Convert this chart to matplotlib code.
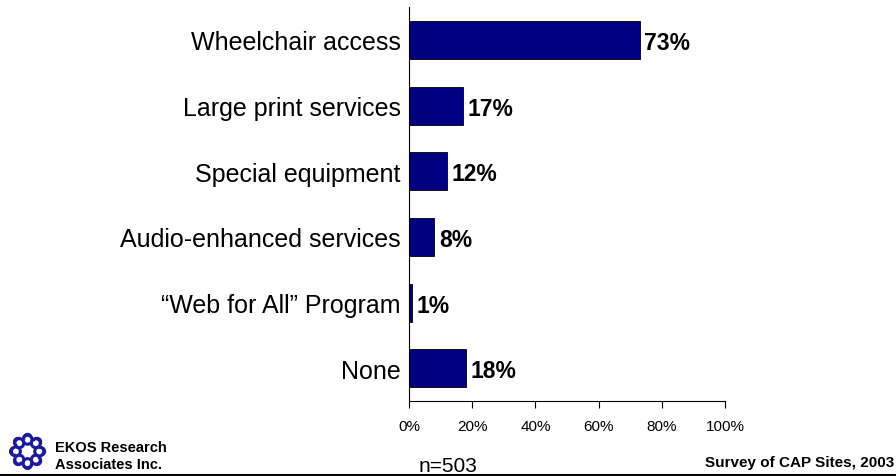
import numpy as np
import matplotlib.pyplot as plt
from matplotlib.patches import Arc, Circle
from matplotlib.lines import Line2D

plt.rcParams['font.family'] = ['Liberation Sans', 'DejaVu Sans']

# Accessibility features offered at sites (percent of respondents)
features = ["Wheelchair access", "Large print services", "Special equipment",
            "Audio-enhanced services", "\u201cWeb for All\u201d Program", "None"]
shares = [73, 17, 12, 8, 1, 18]
ticks = [0, 20, 40, 60, 80, 100]

fig = plt.figure(figsize=(8.96, 4.77), dpi=100)
ax = fig.add_axes([0.4565, 0.157, 0.3527, 0.826])

y = np.arange(len(features))
ax.barh(y, shares, height=0.58, color="#000080", edgecolor="black", linewidth=0.6)
for yi, v in zip(y, shares):
    ax.text(v + 1.5, yi, f"{v}%", va="center_baseline", ha="left",
            fontsize=16.5, fontweight="bold")

ax.set_ylim(len(features) - 0.5, -0.5)
ax.set_xlim(0, 100)
ax.set_yticks(y)
ax.set_yticklabels(features, fontsize=18)
ax.set_xticks(ticks)
ax.set_xticklabels([f"{t}%" for t in ticks], fontsize=11)
ax.tick_params(axis="y", length=0, pad=6)
ax.tick_params(axis="x", length=5, width=0.8, pad=8)
for side in ("top", "right"):
    ax.spines[side].set_visible(False)
for side in ("left", "bottom"):
    ax.spines[side].set_linewidth(0.8)

# footer
fig.add_artist(Line2D([0, 1], [0.002, 0.002], color="black", lw=1.5,
                      transform=fig.transFigure))
fig.text(0.061, 1 - 452 / 477, "EKOS Research", fontsize=10.5,
         fontweight="bold", ha="left", va="baseline")
fig.text(0.061, 1 - 469 / 477, "Associates Inc.", fontsize=10.5,
         fontweight="bold", ha="left", va="baseline")
fig.text(0.5, 1 - 472 / 477, "n=503", fontsize=15, ha="center", va="baseline")
fig.text(0.998, 1 - 467 / 477, "Survey of CAP Sites, 2003", fontsize=11,
         fontweight="bold", ha="right", va="baseline")

# logo: ring of small curls
lax = fig.add_axes([0.009, 0.0105, 0.0435, 0.082])
lax.set_xlim(-1.3, 1.3)
lax.set_ylim(-1.3, 1.3)
lax.set_aspect("equal")
lax.axis("off")
for k in range(8):
    a = 2 * np.pi * k / 8
    cx, cy = 0.78 * np.cos(a), 0.78 * np.sin(a)
    lax.add_patch(Circle((cx, cy), 0.3, fill=False, ec="#1a1aa0", lw=2.2))
    lax.add_patch(Arc((cx * 1.15, cy * 1.15), 0.5, 0.5, angle=np.degrees(a),
                      theta1=-90, theta2=120, color="#1a1aa0", lw=2))

fig.savefig("out.png", dpi=100)
